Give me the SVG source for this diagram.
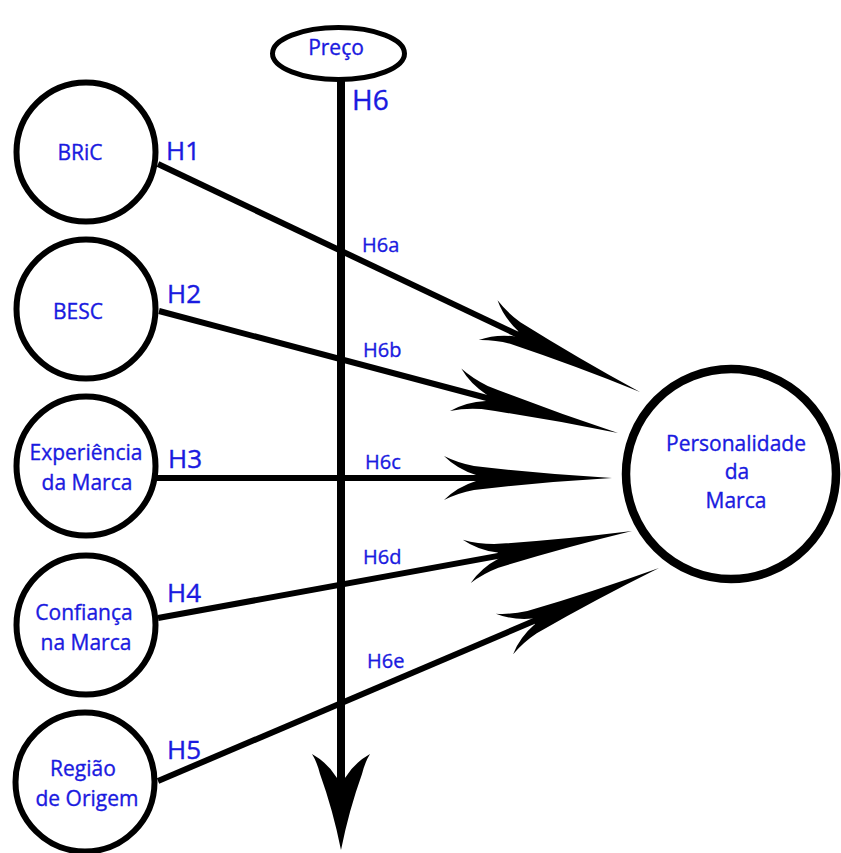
<svg xmlns="http://www.w3.org/2000/svg" width="841" height="853" viewBox="0 0 841 853">
<style>
.node{fill:#fff;stroke:#000;stroke-width:6}
.big{fill:#fff;stroke:#000;stroke-width:8.5}
.t{font-family:"Open Sans","Noto Sans",sans-serif;fill:#1a1ae0;stroke:#1a1ae0;stroke-width:0.35;font-size:21px;text-anchor:middle}
.h{font-family:"Open Sans","Noto Sans",sans-serif;fill:#1a1ae0;stroke:#1a1ae0;stroke-width:0.4;font-size:26px}
.hs{font-family:"Open Sans","Noto Sans",sans-serif;fill:#1a1ae0;stroke:#1a1ae0;stroke-width:0.35;font-size:20px}
.ln{stroke:#000;stroke-width:6;fill:none}
</style>
<defs>
<path id="head" d="M0,0 Q-70,-4 -138,-12 Q-154,-15 -168,-22 Q-155,-9 -136,-3 L-136,3 Q-155,9 -168,22 Q-154,15 -138,12 Q-70,4 0,0 Z" fill="#000"/>
<path id="vhead" d="M0,0 Q-40,-8 -76,-21 Q-88,-24 -96,-29 Q-87,-13 -72,-4 L-72,4 Q-87,13 -96,29 Q-88,24 -76,21 Q-40,8 0,0 Z" fill="#000"/>
</defs>
<rect width="841" height="853" fill="#fff"/>
<g id="connectors">
<line class="ln" x1="341" y1="80" x2="341" y2="780" style="stroke-width:8"/>
<use href="#vhead" transform="translate(341,850) rotate(90)"/>
<line class="ln" x1="158" y1="164" x2="531" y2="341"/>
<use href="#head" transform="translate(640,392) rotate(25.3)"/>
<line class="ln" x1="159" y1="311" x2="502" y2="402"/>
<use href="#head" transform="translate(618,433) rotate(14.9)"/>
<line class="ln" x1="157" y1="478" x2="492" y2="478"/>
<use href="#head" transform="translate(612,478)"/>
<line class="ln" x1="158" y1="618" x2="514" y2="553"/>
<use href="#head" transform="translate(632,531) rotate(-10.4)"/>
<line class="ln" x1="158" y1="781" x2="548" y2="615"/>
<use href="#head" transform="translate(659,568) rotate(-23.1)"/>
<text class="h" x="352" y="110" style="font-size:28px">H6</text>
<text class="h" x="166" y="160">H1</text>
<text class="h" x="167" y="303">H2</text>
<text class="h" x="168" y="468">H3</text>
<text class="h" x="167" y="602">H4</text>
<text class="h" x="167" y="759">H5</text>
<text class="hs" x="362" y="252">H6a</text>
<text class="hs" x="363" y="357">H6b</text>
<text class="hs" x="365" y="469">H6c</text>
<text class="hs" x="363" y="564">H6d</text>
<text class="hs" x="367" y="668">H6e</text>
</g>
<g id="preco">
<ellipse class="node" cx="338.5" cy="53.5" rx="66" ry="26" style="stroke-width:5"/>
<text class="t" x="336" y="55">Preço</text>
</g>
<g id="bric">
<circle class="node" cx="86" cy="152" r="69.5"/>
<text class="t" x="80" y="160">BRiC</text>
</g>
<g id="besc">
<circle class="node" cx="86" cy="309" r="69.5"/>
<text class="t" x="78" y="319">BESC</text>
</g>
<g id="experiencia">
<circle class="node" cx="86" cy="466" r="69.5"/>
<text class="t" x="86" y="460">Experiência</text>
<text class="t" x="87" y="490">da Marca</text>
</g>
<g id="confianca">
<circle class="node" cx="86" cy="625" r="69.5"/>
<text class="t" x="84" y="620">Confiança</text>
<text class="t" x="86" y="650">na Marca</text>
</g>
<g id="regiao">
<circle class="node" cx="85" cy="782" r="69.5"/>
<text class="t" x="83" y="776">Região</text>
<text class="t" x="87" y="806">de Origem</text>
</g>
<g id="personalidade">
<circle class="big" cx="731" cy="474" r="105"/>
<text class="t" x="736" y="451">Personalidade</text>
<text class="t" x="737" y="479">da</text>
<text class="t" x="736" y="508">Marca</text>
</g>
</svg>
